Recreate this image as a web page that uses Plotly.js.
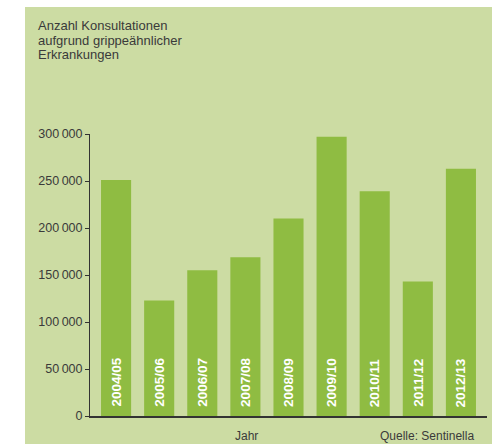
<!DOCTYPE html>
<html>
<head>
<meta charset="utf-8">
<script src="https://cdn.plot.ly/plotly-3.0.1.min.js"></script>
<style>
  html, body { margin: 0; padding: 0; background: #ffffff; width: 500px; height: 444px; overflow: hidden; }
  #chart { position: absolute; left: 25px; top: 7px; width: 467px; height: 437px; }
</style>
</head>
<body>
<div id="chart"></div>
<script>
const seasons = ["2004/05","2005/06","2006/07","2007/08","2008/09","2009/10","2010/11","2011/12","2012/13"];
const consultations = [251000, 123000, 155000, 169000, 210000, 297000, 239000, 143000, 263000];
const yTickVals = [0, 50000, 100000, 150000, 200000, 250000, 300000];
const yTickText = ["0", "50\u2009000", "100\u2009000", "150\u2009000", "200\u2009000", "250\u2009000", "300\u2009000"];
const titleLines = ["Anzahl Konsultationen", "aufgrund grippeähnlicher", "Erkrankungen"];
const xTitle = "Jahr";
const sourceText = "Quelle: Sentinella";

const textColor = "#3a3a3a";
const fontFam = "Liberation Sans, Arial, sans-serif";

const trace = {
  type: "bar",
  x: seasons,
  y: consultations,
  marker: { color: "#8fbc42", line: { width: 0 } },
  hoverinfo: "skip"
};

const annotations = [];
const lineY = [1.3848, 1.3333, 1.2819];
titleLines.forEach((t, i) => {
  annotations.push({
    text: t, xref: "paper", yref: "paper", x: -0.136, y: lineY[i],
    xanchor: "left", yanchor: "middle", showarrow: false,
    font: { family: fontFam, size: 13, color: textColor }
  });
});
seasons.forEach((s) => {
  annotations.push({
    text: "<b>" + s + "</b>", x: s, y: 0, xref: "x", yref: "y",
    textangle: -90, xanchor: "center", yanchor: "bottom", yshift: 7,
    showarrow: false,
    font: { family: fontFam, size: 13.5, color: "#ffffff" }
  });
});
annotations.push({
  text: xTitle, xref: "paper", yref: "paper", x: 0.393, y: -0.0709,
  xanchor: "center", yanchor: "middle", showarrow: false,
  font: { family: fontFam, size: 12, color: textColor }
});
annotations.push({
  text: sourceText, xref: "paper", yref: "paper", x: 0.972, y: -0.0709,
  xanchor: "right", yanchor: "middle", showarrow: false,
  font: { family: fontFam, size: 12, color: textColor }
});

const layout = {
  width: 467, height: 437,
  margin: { l: 65, r: 5, t: 127, b: 28, pad: 0 },
  paper_bgcolor: "#ccdca3",
  plot_bgcolor: "rgba(0,0,0,0)",
  showlegend: false,
  bargap: 0.302,
  font: { family: fontFam, color: textColor },
  xaxis: {
    type: "category",
    range: [-0.605, 8.605],
    showticklabels: false, ticks: "",
    showgrid: false, zeroline: false,
    showline: true, linecolor: "#333333", linewidth: 1.5,
    fixedrange: true
  },
  yaxis: {
    range: [0, 300000],
    tickvals: yTickVals, ticktext: yTickText,
    ticks: "outside", ticklen: 4, tickwidth: 1, tickcolor: "#333333",
    showgrid: false, zeroline: false,
    showline: true, linecolor: "#333333", linewidth: 1,
    tickfont: { family: fontFam, size: 12.5, color: textColor },
    fixedrange: true
  },
  annotations: annotations
};

Plotly.newPlot("chart", [trace], layout, { displayModeBar: false, staticPlot: true });
</script>
</body>
</html>
